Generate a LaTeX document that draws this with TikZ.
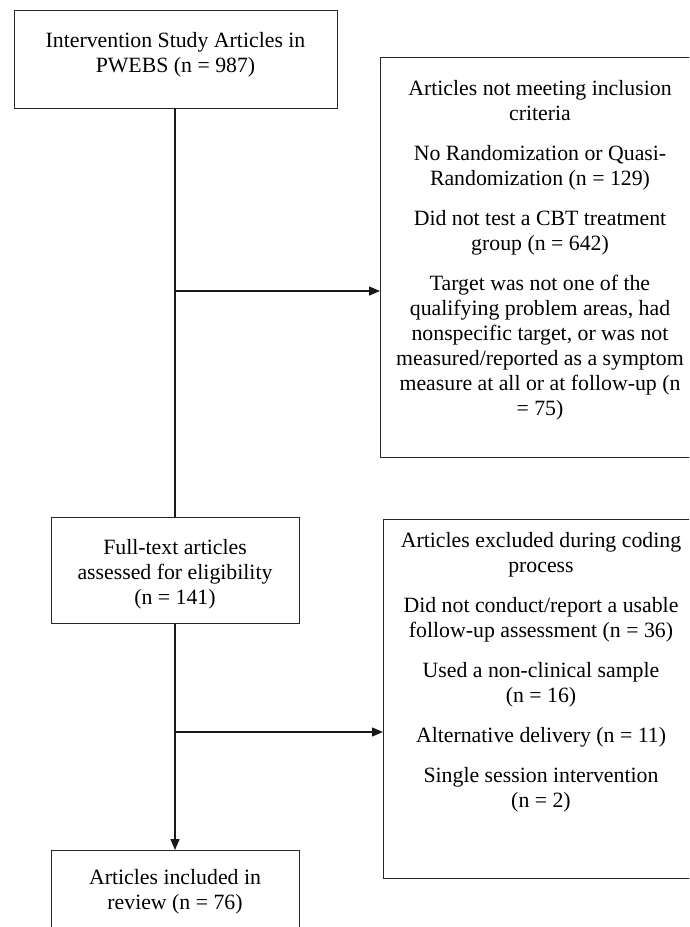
\documentclass[tikz,border=0pt]{standalone}
\usepackage{fontspec}
\setmainfont{Liberation Serif}
\usetikzlibrary{arrows.meta}
\begin{document}
\begin{tikzpicture}[x=1pt,y=-1pt,
  box/.style={draw=black!85, line width=1.3pt, inner sep=0pt, anchor=north west},
  txt/.style={align=center, inner sep=0pt, anchor=north, font=\fontsize{21.8}{25}\selectfont},
  arr/.style={draw=black!90, line width=1.3pt, -{Triangle[length=11pt,width=9pt]}},
  ln/.style={draw=black!90, line width=1.3pt}]
\useasboundingbox (0,0) rectangle (689,927);
\clip (0,0) rectangle (689,927);
\fill[white] (0,0) rectangle (689,927);
% boxes
\node[box, minimum width=323pt, minimum height=98pt] (b1) at (14,10) {};
\node[box, minimum width=320pt, minimum height=400pt] (e1) at (380,57) {};
\node[box, minimum width=248pt, minimum height=106pt] (b2) at (51,517) {};
\node[box, minimum width=317pt, minimum height=359pt] (e2) at (383,519) {};
\node[box, minimum width=248pt, minimum height=100pt] (b3) at (51,850) {};
% texts
\node[txt] (t1) at (175.5,29) {\rule{0pt}{18pt}Intervention Study Articles in\\PWEBS (n = 987)};
\node[txt] (te1) at (540,77) {\rule{0pt}{18pt}Articles not meeting inclusion\\criteria\\[15pt]No Randomization or Quasi-\\Randomization (n = 129)\\[15pt]Did not test a CBT treatment\\group (n = 642)\\[15pt]Target was not one of the\\qualifying problem areas, had\\nonspecific target, or was not\\measured/reported as a symptom\\measure at all or at follow-up (n\\= 75)};
\node[txt] (t2) at (175,536) {\rule{0pt}{18pt}Full-text articles\\assessed for eligibility\\(n = 141)};
\node[txt] (te2) at (541,529) {\rule{0pt}{18pt}Articles excluded during coding\\process\\[15pt]Did not conduct/report a usable\\follow-up assessment (n = 36)\\[15pt]Used a non-clinical sample\\(n = 16)\\[15pt]Alternative delivery (n = 11)\\[15pt]Single session intervention\\(n = 2)};
\node[txt] (t3) at (175,866) {\rule{0pt}{18pt}Articles included in\\review (n = 76)};
% connectors
\coordinate (top) at (175,108);
\coordinate (j1) at (175,291);
\coordinate (j2) at (175,732);
\draw[ln] (top) -- (top |- b2.north);
\draw[arr] (j1) -- (j1 -| e1.west);
\draw[arr] (b2.south -| top) -- (b3.north -| top);
\draw[arr] (j2) -- (j2 -| e2.west);
\end{tikzpicture}
\end{document}
